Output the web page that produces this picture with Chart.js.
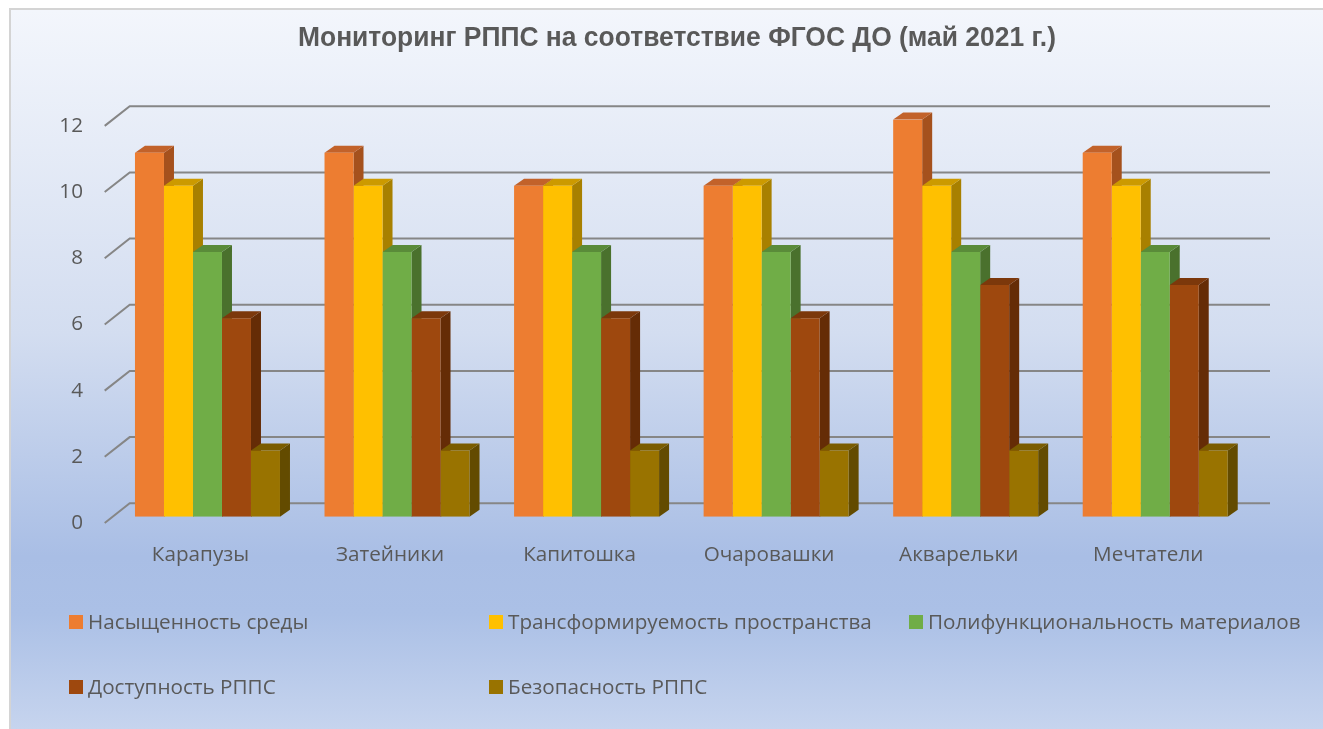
<!DOCTYPE html>
<html><head><meta charset="utf-8">
<script src="https://cdn.jsdelivr.net/npm/chart.js@4/dist/chart.umd.min.js"></script>
<style>html,body{margin:0;padding:0;background:#fff;overflow:hidden}canvas{display:block}</style>
</head><body>
<div style="width:1323px;height:729px;position:relative"><canvas id="c" width="1323" height="729"></canvas></div>
<script>
const chartTitle = 'Мониторинг РППС на соответствие ФГОС ДО (май 2021 г.)';
const categories = ['Карапузы', 'Затейники', 'Капитошка', 'Очаровашки', 'Акварельки', 'Мечтатели'];
const seriesNames = ['Насыщенность среды', 'Трансформируемость пространства', 'Полифункциональность материалов', 'Доступность РППС', 'Безопасность РППС'];
const saturation = [11, 11, 10, 10, 12, 11];
const transformability = [10, 10, 10, 10, 10, 10];
const polyfunctionality = [8, 8, 8, 8, 8, 8];
const accessibility = [6, 6, 6, 6, 7, 7];
const safety = [2, 2, 2, 2, 2, 2];
const yTickValues = [0, 2, 4, 6, 8, 10, 12];

const frontColors = ['#ED7D31', '#FFC000', '#70AD47', '#9E480E', '#997300'];
const topColors = ['#C2622A', '#CC9A00', '#5A8B39', '#7C380B', '#7A5C00'];
const sideColors = ['#A5511D', '#A88000', '#4A712D', '#652C06', '#634B00'];

const seriesValues = [saturation, transformability, polyfunctionality, accessibility, safety];

const DX = 10, DY = 7;          // bar depth offsets
const TEXT = '#595959';
const FONT = "'Open Sans', 'Noto Sans', sans-serif";

const deco = {
  id: 'deco',
  beforeDraw(chart) {
    const ctx = chart.ctx;
    ctx.save();
    ctx.fillStyle = '#ffffff';
    ctx.fillRect(0, 0, chart.width, chart.height);
    const g = ctx.createLinearGradient(0, 10, 0, 729);
    g.addColorStop(0, '#f3f6fc');
    g.addColorStop(0.45, '#d3ddf0');
    g.addColorStop(0.76, '#a9bee5');
    g.addColorStop(0.84, '#abc0e6');
    g.addColorStop(1, '#c6d4ee');
    ctx.fillStyle = g;
    ctx.fillRect(10, 9, chart.width - 10, chart.height - 9);
    ctx.strokeStyle = '#d4d4d4';
    ctx.lineWidth = 2;
    ctx.beginPath();
    ctx.moveTo(10, chart.height);
    ctx.lineTo(10, 9);
    ctx.lineTo(chart.width, 9);
    ctx.stroke();
    ctx.restore();
  },
  beforeDatasetsDraw(chart) {
    const ctx = chart.ctx;
    const ys = chart.scales.y;
    const area = chart.chartArea;
    ctx.save();
    ctx.strokeStyle = '#868686';
    ctx.lineWidth = 2;
    yTickValues.forEach(v => {
      const yp = ys.getPixelForValue(v);
      const yb = yp - 13.4, yf = yp + 6.3;
      ctx.beginPath();
      ctx.moveTo(area.left - 8, yf);
      ctx.lineTo(area.left + 17, yb);
      ctx.lineTo(area.right + 20, yb);
      ctx.stroke();
    });
    const metas = chart.data.datasets.map((d, i) => chart.getDatasetMeta(i));
    for (let c = 0; c < categories.length; c++) {
      metas.forEach((meta, s) => {
        const el = meta.data[c];
        if (!el) return;
        const p = el.getProps(['x', 'y', 'base', 'width'], true);
        const l = p.x - p.width / 2, r = p.x + p.width / 2;
        ctx.fillStyle = sideColors[s];
        ctx.beginPath();
        ctx.moveTo(r, p.y);
        ctx.lineTo(r + DX, p.y - DY);
        ctx.lineTo(r + DX, p.base - DY);
        ctx.lineTo(r, p.base);
        ctx.closePath();
        ctx.fill();
        ctx.fillStyle = topColors[s];
        ctx.beginPath();
        ctx.moveTo(l, p.y);
        ctx.lineTo(l + DX, p.y - DY);
        ctx.lineTo(r + DX, p.y - DY);
        ctx.lineTo(r, p.y);
        ctx.closePath();
        ctx.fill();
      });
    }
    ctx.restore();
  },
  afterDraw(chart) {
    const ctx = chart.ctx;
    const ys = chart.scales.y, xs = chart.scales.x;
    ctx.save();
    // Title (narrow bold look)
    ctx.fillStyle = TEXT;
    ctx.font = "bold 27px 'Liberation Sans', Arial, sans-serif";
    ctx.textBaseline = 'alphabetic';
    ctx.textAlign = 'left';
    const tw = ctx.measureText(chartTitle).width;
    const targetW = 758;
    ctx.translate(677 - targetW / 2, 46);
    ctx.scale(targetW / tw, 1);
    ctx.fillText(chartTitle, 0, 0);
    ctx.setTransform(1, 0, 0, 1, 0, 0);

    ctx.font = '20px ' + FONT;
    const w = ctx.measureText(seriesNames[0]).width + ctx.measureText(seriesNames[1]).width + ctx.measureText(seriesNames[2]).width;
    const fs = 20 * 957 / w;
    ctx.font = fs.toFixed(2) + 'px ' + FONT;

    ctx.textAlign = 'right';
    ctx.textBaseline = 'middle';
    yTickValues.forEach(v => {
      ctx.fillText(String(v), 83, ys.getPixelForValue(v) + 6.3);
    });
    ctx.textAlign = 'center';
    ctx.textBaseline = 'alphabetic';
    categories.forEach((cat, i) => {
      ctx.fillText(cat, xs.getPixelForValue(i) - 7, 561);
    });
    const colX = [69, 489, 909, 69, 489];
    const rowY = [615, 615, 615, 680, 680];
    ctx.textAlign = 'left';
    seriesNames.forEach((name, i) => {
      ctx.fillStyle = frontColors[i];
      ctx.fillRect(colX[i], rowY[i], 14, 14);
      ctx.fillStyle = TEXT;
      ctx.fillText(name, colX[i] + 19, rowY[i] + 14);
    });
    ctx.restore();
  }
};

new Chart(document.getElementById('c'), {
  type: 'bar',
  data: {
    labels: categories,
    datasets: seriesNames.map((name, i) => ({
      label: name,
      data: seriesValues[i],
      backgroundColor: frontColors[i],
      borderWidth: 0,
      categoryPercentage: 0.765,
      barPercentage: 1
    }))
  },
  options: {
    responsive: false,
    animation: false,
    devicePixelRatio: 1,
    layout: { padding: { left: 112.7, right: 73, top: 119.6, bottom: 212.3 } },
    scales: {
      x: { display: false },
      y: { display: false, min: 0, max: 12 }
    },
    plugins: { legend: { display: false }, tooltip: { enabled: false }, title: { display: false } }
  },
  plugins: [deco]
});
</script>
</body></html>
